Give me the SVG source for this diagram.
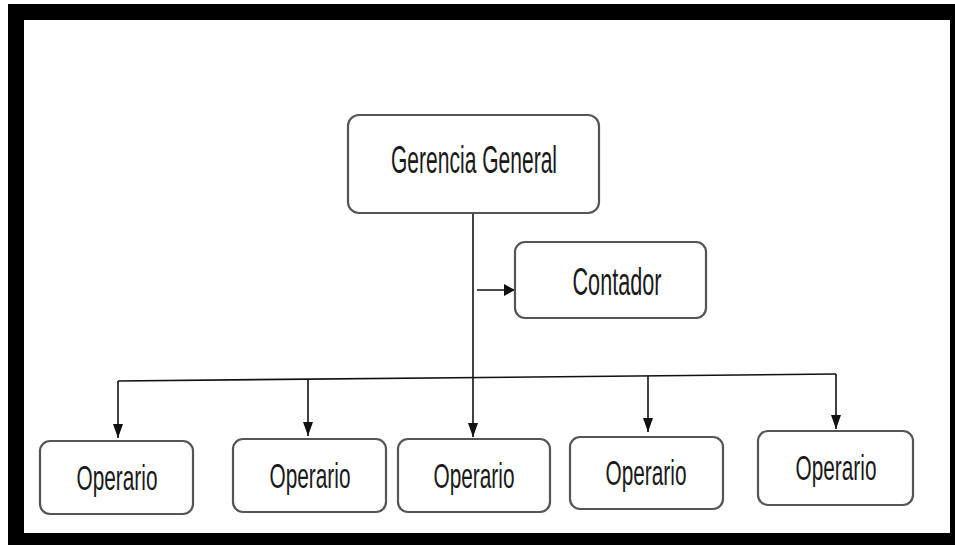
<svg xmlns="http://www.w3.org/2000/svg" width="955" height="545" viewBox="0 0 955 545">
<defs>
<style>
.box{fill:#fff;stroke:#555;stroke-width:2.2}
.lbl{font-family:"Liberation Sans",Arial,sans-serif;fill:#1a1a1a;text-anchor:middle}
.ln{stroke:#111;stroke-width:1.6;fill:none}
</style>
<marker id="ah" viewBox="0 0 14 10" refX="14" refY="5" markerWidth="14" markerHeight="10" markerUnits="userSpaceOnUse" orient="auto">
<path d="M0,0 L14,5 L0,10 z" fill="#111"/>
</marker>
<marker id="ah2" viewBox="0 0 12 12" refX="11" refY="6" markerWidth="12" markerHeight="12" markerUnits="userSpaceOnUse" orient="auto">
<path d="M0,0 L11,6 L0,12 z" fill="#111"/>
</marker>
</defs>
<rect x="0" y="0" width="955" height="545" fill="#fff"/>
<rect x="8" y="4" width="947" height="541" fill="#000"/>
<rect x="24" y="20" width="926" height="513" fill="#fff"/>
<g id="connectors">
<line class="ln" x1="473" y1="213" x2="473" y2="378"/>
<line class="ln" x1="477" y1="290" x2="515" y2="290" marker-end="url(#ah2)" stroke-width="2"/>
<line class="ln" x1="118" y1="381" x2="836" y2="374"/>
<line class="ln" x1="118" y1="381" x2="118" y2="438" marker-end="url(#ah)"/>
<line class="ln" x1="308" y1="379" x2="308" y2="436" marker-end="url(#ah)"/>
<line class="ln" x1="473" y1="378" x2="473" y2="437" marker-end="url(#ah)"/>
<line class="ln" x1="648" y1="376" x2="648" y2="432" marker-end="url(#ah)"/>
<line class="ln" x1="836" y1="374" x2="836" y2="429" marker-end="url(#ah)"/>
</g>
<g id="gerencia">
<rect class="box" x="348" y="115" width="251" height="98" rx="11"/>
<text class="lbl" x="474" y="173" font-size="38" textLength="166" lengthAdjust="spacingAndGlyphs">Gerencia General</text>
</g>
<g id="contador">
<rect class="box" x="515" y="242" width="191" height="76" rx="10"/>
<text class="lbl" x="617" y="295" font-size="38" textLength="89" lengthAdjust="spacingAndGlyphs">Contador</text>
</g>
<g id="op1">
<rect class="box" x="40" y="441" width="153" height="73" rx="10"/>
<text class="lbl" x="117" y="490" font-size="35" textLength="81" lengthAdjust="spacingAndGlyphs">Operario</text>
</g>
<g id="op2">
<rect class="box" x="233" y="439" width="153" height="73" rx="10"/>
<text class="lbl" x="310" y="488" font-size="35" textLength="81" lengthAdjust="spacingAndGlyphs">Operario</text>
</g>
<g id="op3">
<rect class="box" x="398" y="439" width="152" height="73" rx="10"/>
<text class="lbl" x="474" y="488" font-size="35" textLength="81" lengthAdjust="spacingAndGlyphs">Operario</text>
</g>
<g id="op4">
<rect class="box" x="570" y="437" width="153" height="72" rx="10"/>
<text class="lbl" x="646" y="485" font-size="35" textLength="81" lengthAdjust="spacingAndGlyphs">Operario</text>
</g>
<g id="op5">
<rect class="box" x="758" y="431" width="155" height="74" rx="10"/>
<text class="lbl" x="836" y="480" font-size="35" textLength="81" lengthAdjust="spacingAndGlyphs">Operario</text>
</g>
</svg>
